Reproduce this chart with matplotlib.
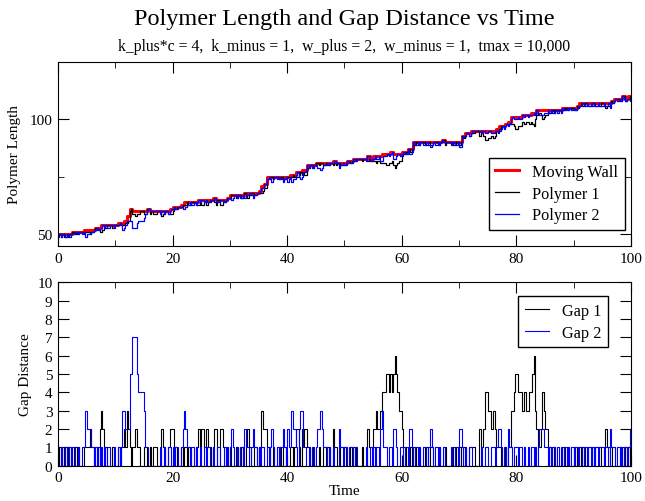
import numpy as np
import matplotlib.pyplot as plt
from matplotlib.ticker import MultipleLocator

plt.rcParams['font.family'] = ['Liberation Serif', 'DejaVu Serif']

# wall position read every 0.5 time units, t = 0 .. 99.5
wall = [50, 50, 50, 50, 50, 51, 51, 51, 51, 52,
        52, 52, 52, 53, 53, 54, 54, 54, 54, 54,
        54, 55, 55, 56, 58, 61, 60, 60, 60, 60,
        60, 61, 60, 60, 60, 60, 60, 60, 60, 61,
        62, 62, 62, 63, 64, 64, 64, 64, 64, 65,
        65, 65, 65, 65, 66, 65, 65, 65, 65, 66,
        67, 67, 67, 67, 67, 68, 68, 68, 68, 68,
        69, 71, 72, 75, 75, 75, 75, 75, 75, 75,
        75, 76, 76, 77, 77, 78, 78, 80, 80, 80,
        81, 81, 81, 81, 81, 81, 82, 81, 81, 81,
        81, 82, 82, 83, 83, 83, 83, 83, 84, 83,
        84, 84, 84, 85, 85, 85, 86, 85, 85, 85,
        86, 86, 87, 87, 90, 90, 90, 90, 90, 90,
        90, 90, 90, 90, 91, 90, 90, 90, 90, 90,
        90, 93, 94, 94, 95, 95, 95, 95, 95, 95,
        95, 95, 95, 96, 97, 97, 98, 99, 101, 101,
        101, 101, 102, 102, 102, 103, 103, 104, 104, 104,
        104, 104, 104, 104, 104, 104, 105, 105, 105, 105,
        105, 106, 107, 107, 107, 107, 107, 107, 107, 107,
        107, 107, 107, 108, 109, 109, 109, 110, 109, 110]

# gaps read every 0.25 time units, one row per 5 time units
gap1 = [1, 0, 1, 0, 1, 1, 0, 1, 0, 0, 0, 1, 1, 0, 1, 0, 0, 0, 1, 1,
        1, 1, 2, 1, 1, 0, 0, 0, 1, 2, 3, 2, 1, 1, 0, 0, 0, 0, 1, 0,
        0, 0, 1, 0, 1, 1, 2, 1, 3, 2, 1, 0, 1, 1, 2, 1, 1, 0, 0, 0,
        1, 1, 0, 0, 1, 0, 1, 1, 1, 0, 0, 0, 2, 1, 1, 0, 0, 1, 2, 2,
        2, 1, 1, 0, 0, 0, 1, 0, 1, 1, 0, 1, 1, 0, 0, 0, 1, 1, 2, 1,
        2, 2, 1, 2, 2, 1, 1, 0, 1, 2, 2, 0, 0, 2, 2, 1, 1, 0, 0, 0,
        1, 0, 0, 0, 1, 1, 0, 0, 1, 0, 0, 1, 2, 1, 1, 0, 0, 1, 1, 0,
        1, 1, 3, 2, 2, 2, 1, 1, 0, 0, 1, 0, 0, 0, 1, 1, 0, 1, 1, 0,
        0, 0, 1, 1, 0, 1, 2, 2, 1, 0, 2, 1, 2, 2, 1, 1, 0, 0, 1, 0,
        0, 0, 1, 0, 0, 1, 1, 0, 1, 1, 0, 0, 2, 1, 1, 0, 0, 1, 1, 1,
        1, 0, 0, 0, 1, 0, 1, 1, 0, 0, 0, 0, 1, 0, 0, 0, 2, 1, 1, 1,
        2, 2, 3, 2, 2, 3, 4, 4, 4, 5, 5, 4, 5, 4, 5, 6, 5, 4, 3, 3,
        2, 1, 1, 0, 0, 0, 1, 0, 1, 1, 0, 0, 1, 0, 0, 0, 1, 1, 0, 0,
        1, 1, 0, 0, 0, 0, 1, 0, 0, 0, 1, 0, 0, 0, 0, 0, 1, 1, 0, 0,
        1, 0, 0, 1, 1, 0, 0, 1, 1, 1, 1, 0, 0, 0, 2, 1, 1, 2, 4, 4,
        3, 3, 2, 2, 3, 2, 1, 1, 1, 0, 0, 0, 1, 0, 1, 1, 3, 3, 4, 5,
        5, 4, 4, 4, 3, 4, 4, 3, 3, 4, 4, 5, 6, 3, 2, 1, 1, 2, 4, 3,
        2, 2, 1, 1, 0, 0, 1, 0, 0, 0, 0, 0, 1, 1, 0, 0, 1, 0, 0, 0,
        1, 1, 0, 1, 1, 0, 1, 1, 0, 0, 1, 1, 1, 0, 0, 1, 1, 1, 1, 0,
        0, 1, 2, 1, 1, 0, 0, 1, 1, 0, 0, 0, 1, 1, 0, 0, 1, 0, 1, 0]

gap2 = [0, 0, 1, 0, 0, 1, 0, 0, 1, 0, 1, 1, 0, 0, 1, 0, 0, 1, 1, 3,
        2, 2, 2, 1, 1, 0, 1, 0, 1, 0, 1, 0, 1, 0, 1, 1, 0, 0, 0, 1,
        0, 0, 1, 0, 1, 3, 3, 2, 2, 2, 5, 5, 7, 7, 7, 5, 4, 4, 4, 4,
        3, 1, 1, 0, 0, 0, 0, 0, 0, 0, 0, 1, 0, 0, 1, 0, 0, 1, 1, 0,
        1, 0, 1, 1, 0, 0, 1, 2, 3, 2, 1, 1, 0, 1, 1, 0, 1, 0, 0, 1,
        0, 0, 1, 0, 1, 1, 0, 0, 1, 0, 0, 1, 1, 0, 0, 0, 1, 0, 1, 0,
        1, 2, 1, 0, 0, 1, 0, 1, 1, 0, 2, 1, 1, 0, 0, 1, 2, 1, 1, 0,
        1, 0, 1, 1, 0, 0, 1, 0, 1, 2, 1, 0, 0, 1, 0, 1, 1, 2, 1, 0,
        2, 1, 1, 3, 2, 2, 1, 0, 2, 3, 3, 1, 1, 0, 0, 1, 0, 1, 1, 0,
        1, 2, 2, 3, 2, 1, 1, 1, 0, 1, 0, 0, 1, 0, 0, 0, 2, 1, 1, 0,
        1, 1, 0, 1, 1, 1, 0, 1, 1, 0, 0, 0, 0, 0, 0, 1, 0, 0, 1, 0,
        1, 0, 1, 1, 0, 2, 3, 1, 1, 1, 0, 1, 1, 0, 2, 2, 1, 0, 0, 1,
        1, 0, 1, 1, 0, 2, 2, 1, 0, 1, 1, 0, 1, 0, 0, 1, 1, 0, 1, 1,
        2, 1, 0, 1, 1, 0, 1, 0, 0, 1, 0, 0, 0, 0, 1, 0, 0, 1, 1, 0,
        2, 2, 1, 0, 1, 0, 0, 1, 1, 0, 0, 0, 0, 0, 0, 1, 0, 0, 1, 1,
        0, 0, 1, 1, 1, 0, 1, 2, 2, 1, 0, 1, 1, 0, 2, 1, 1, 0, 1, 1,
        1, 0, 1, 1, 0, 1, 0, 0, 1, 0, 1, 1, 0, 1, 0, 1, 2, 2, 2, 1,
        1, 1, 0, 1, 0, 1, 1, 0, 1, 1, 0, 1, 0, 1, 1, 0, 1, 0, 1, 1,
        0, 1, 1, 0, 1, 1, 0, 1, 1, 0, 1, 1, 0, 1, 0, 1, 1, 0, 1, 1,
        1, 0, 1, 1, 0, 2, 1, 1, 1, 0, 1, 1, 0, 1, 0, 1, 1, 0, 1, 2]

# bring everything to the 0.25 grid, hold last value to t = 100
dt = 0.25
wall_f = np.repeat(wall, 2)
time = np.append(np.arange(len(gap1)) * dt, 100)
wall_a = np.append(wall_f, wall_f[-1])
gap1_a = np.append(gap1, gap1[-1])
gap2_a = np.append(gap2, gap2[-1])
polymer1 = wall_a - gap1_a
polymer2 = wall_a - gap2_a

fig = plt.figure(figsize=(6.45, 5.02), dpi=100)
ax1 = fig.add_axes([0.0899, 0.508, 0.8884, 0.3665])
ax2 = fig.add_axes([0.0899, 0.0703, 0.8884, 0.3655])

fig.text(0.534, 0.962, 'Polymer Length and Gap Distance vs Time',
         ha='center', va='center', fontsize=17.5)
fig.text(0.534, 0.907,
         'k_plus*c = 4,  k_minus = 1,  w_plus = 2,  w_minus = 1,  tmax = 10,000',
         ha='center', va='center', fontsize=11.3)

leg_kw = dict(borderaxespad=0, fancybox=False, edgecolor='black', framealpha=1,
              fontsize=11.7, handlelength=1.5, labelspacing=0.35, borderpad=0.4)

ax1.plot(time, wall_a, drawstyle='steps-post', color='red', lw=2.2, label='Moving Wall')
ax1.plot(time, polymer1, drawstyle='steps-post', color='black', lw=0.9, label='Polymer 1')
ax1.plot(time, polymer2, drawstyle='steps-post', color='blue', lw=0.9, label='Polymer 2')
ax1.set_xlim(0, 100)
ax1.set_ylim(45, 125)
ax1.yaxis.set_major_locator(MultipleLocator(50))
ax1.yaxis.set_minor_locator(MultipleLocator(25))
ax1.set_ylabel('Polymer Length', fontsize=11, labelpad=6)
ax1.legend(loc='lower right', bbox_to_anchor=(0.9895, 0.087), **leg_kw)

ax2.plot(time, gap1_a, drawstyle='steps-post', color='black', lw=0.8, label='Gap 1')
ax2.plot(time, gap2_a, drawstyle='steps-post', color='blue', lw=0.8, label='Gap 2')
ax2.set_xlim(0, 100)
ax2.set_ylim(0, 10)
ax2.yaxis.set_major_locator(MultipleLocator(1))
ax2.set_ylabel('Gap Distance', fontsize=11, labelpad=4)
ax2.set_xlabel('Time', fontsize=11, labelpad=0)
ax2.legend(loc='upper right', bbox_to_anchor=(0.96, 0.923), **leg_kw)

for ax in (ax1, ax2):
    ax.xaxis.set_major_locator(MultipleLocator(20))
    ax.xaxis.set_minor_locator(MultipleLocator(10))
    ax.tick_params(which='both', direction='in', top=True, right=True, labelsize=11)
    ax.tick_params(which='major', length=8, pad=4)
    ax.tick_params(which='minor', length=4.5)

fig.savefig('out.png', dpi=100)
